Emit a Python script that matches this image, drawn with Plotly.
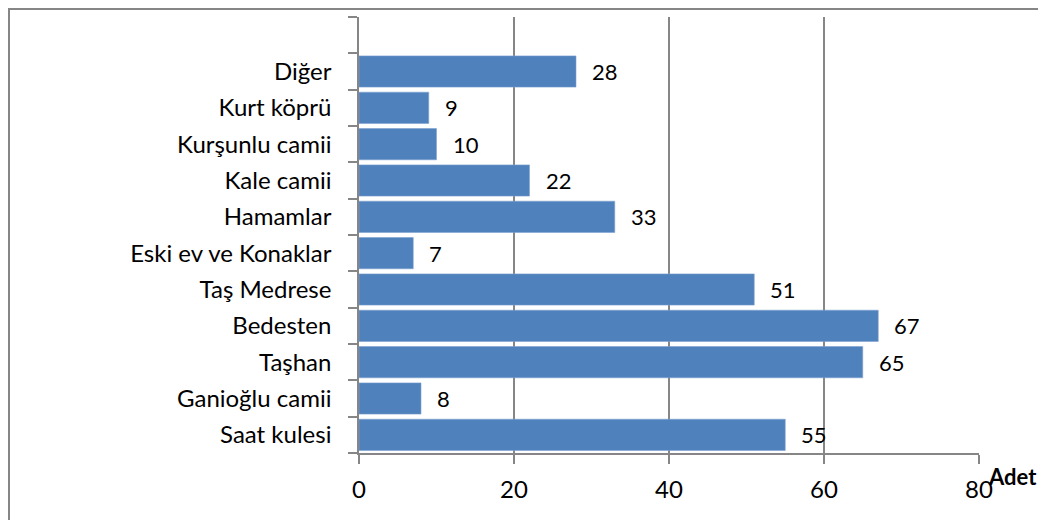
import plotly.graph_objects as go

categories = ["Saat kulesi", "Ganioğlu camii", "Taşhan", "Bedesten", "Taş Medrese",
              "Eski ev ve Konaklar", "Hamamlar", "Kale camii", "Kurşunlu camii",
              "Kurt köprü", "Diğer"]
values = [55, 8, 65, 67, 51, 7, 33, 22, 10, 9, 28]
x_ticks = [0, 20, 40, 60, 80]
axis_title = "Adet"

FONT = "Lato, 'Open Sans', sans-serif"
GRAY = "#868686"
BAR = "#4F81BD"

OFF = 8  # page body margin
W, H = 1046, 520
L, T = 359 - OFF, 17 - OFF
R, B = W - (979 - OFF), H - (453 - OFF)
pw, ph = W - L - R, H - T - B

fig = go.Figure()
fig.add_trace(go.Bar(
    y=categories, x=values, orientation="h",
    marker=dict(color=BAR, line=dict(color="#7FA2D0", width=0.6)),
    hoverinfo="skip",
))

for c, v in zip(categories, values):
    fig.add_annotation(x=v, y=c, text=str(v), showarrow=False,
                       xanchor="left", yanchor="middle", xshift=14,
                       font=dict(family=FONT, size=22, color="#000000"))

cat_array = categories + [" "]

fig.update_layout(
    width=W, height=H,
    margin=dict(l=L, r=R, t=T, b=B, pad=0),
    paper_bgcolor="white", plot_bgcolor="white",
    showlegend=False,
    bargap=0.14,
    font=dict(family=FONT, size=22, color="#000000"),
    xaxis=dict(
        range=[0, 80], tickvals=x_ticks, ticktext=[str(t) for t in x_ticks],
        showgrid=True, gridcolor=GRAY, gridwidth=1.5,
        showline=True, linecolor=GRAY, linewidth=1.5,
        ticks="outside", ticklen=9, tickcolor=GRAY, tickwidth=1.5,
        ticklabelstandoff=5,
        zeroline=False, fixedrange=True,
        tickfont=dict(family=FONT, size=24, color="#000000"),
    ),
    yaxis=dict(
        type="category", categoryorder="array", categoryarray=cat_array,
        range=[-0.5, 11.5],
        showgrid=False, showline=True, linecolor=GRAY, linewidth=1.5,
        ticks="outside", ticklen=9, tickcolor=GRAY, tickwidth=1.5,
        tickson="boundaries", ticklabelstandoff=21,
        zeroline=False, fixedrange=True,
        tickfont=dict(family=FONT, size=24, color="#000000"),
    ),
)

fig.add_annotation(text="<b>" + axis_title + "</b>", xref="paper", yref="paper",
                   x=(1012 - OFF - L) / pw, y=(H - B - (476 - OFF)) / ph,
                   xanchor="center", yanchor="middle", showarrow=False,
                   font=dict(family=FONT, size=22, color="#000000"))

# outer chart border (left and top edges visible)
fig.add_shape(type="rect", xref="paper", yref="paper",
              x0=(1 - L) / pw, x1=(W + 10 - L) / pw,
              y0=(H - B - (H + 10)) / ph, y1=(H - B - 1) / ph,
              line=dict(color=GRAY, width=2), fillcolor="rgba(0,0,0,0)", layer="above")

fig.write_html("out.html")
